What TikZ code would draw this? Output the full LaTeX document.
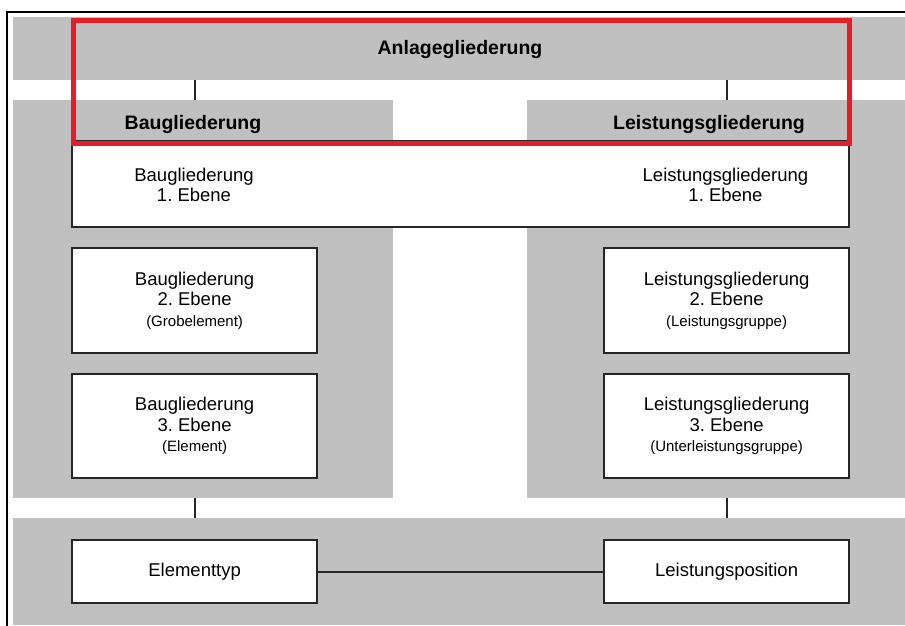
\documentclass[tikz,border=0pt]{standalone}
\usepackage{fontspec}
\setmainfont{Liberation Sans}
\frenchspacing
\definecolor{bandgray}{RGB}{192,192,192}
\definecolor{markred}{RGB}{226,30,40}
\tikzset{
  band/.style={rectangle, fill=bandgray, draw=none, inner sep=0pt, anchor=north west},
  levelbox/.style={rectangle, fill=white, draw=black!85, line width=2.2pt, inner sep=0pt,
    anchor=north west, align=center, font=\fontsize{18.5}{20.5}\selectfont},
  boxtext/.style={align=center, inner sep=0pt, font=\fontsize{18.5}{20.5}\selectfont},
  headline/.style={inner sep=0pt, anchor=base, font=\fontsize{19.5}{22}\selectfont\bfseries},
  conn/.style={draw=black!85, line width=2.2pt},
  frame/.style={draw=black, line width=2.2pt},
  highlight/.style={rectangle, draw=markred, line width=5pt, inner sep=0pt, anchor=north west}
}
\newcommand{\subnote}[1]{{\fontsize{15}{21}\selectfont #1}}
\begin{document}
\begin{tikzpicture}[x=1pt,y=-1pt]
  \useasboundingbox (0,0) rectangle (905,626);

  % outer frame (left and top edges)
  \draw[frame] (7,626) -- (7,12) -- (905,12);

  % grey bands and columns
  \node[band, minimum width=892pt, minimum height=63pt]  (anlage)  at (13,17)  {};
  \node[band, minimum width=380pt, minimum height=398pt] (bauCol)  at (13,100) {};
  \node[band, minimum width=378pt, minimum height=398pt] (leiCol)  at (527,100) {};
  \node[band, minimum width=892pt, minimum height=107pt] (bottom)  at (13,518) {};

  % headings
  \node[headline] (anlageT) at (460,55)  {Anlagegliederung};
  \node[headline] (bauT)    at (193,129) {Baugliederung};
  \node[headline] (leiT)    at (709,129) {Leistungsgliederung};

  % first level (shared box)
  \node[levelbox, minimum width=777pt, minimum height=86pt] (lvlOne) at (71,140) {};
  \node[boxtext] (bau1) at (194,185)   {Baugliederung\\1. Ebene};
  \node[boxtext] (lei1) at (725.5,185) {Leistungsgliederung\\1. Ebene};

  % second and third levels
  \node[levelbox, minimum width=245pt, minimum height=105pt] (bau2) at (71,247)
    {Baugliederung\\2. Ebene\\\subnote{(Grobelement)}};
  \node[levelbox, minimum width=245pt, minimum height=104pt] (bau3) at (71,373)
    {Baugliederung\\3. Ebene\\\subnote{(Element)}};
  \node[levelbox, minimum width=245pt, minimum height=105pt] (lei2) at (603,247)
    {Leistungsgliederung\\2. Ebene\\\subnote{(Leistungsgruppe)}};
  \node[levelbox, minimum width=245pt, minimum height=104pt] (lei3) at (603,373)
    {Leistungsgliederung\\3. Ebene\\\subnote{(Unterleistungsgruppe)}};

  % bottom row
  \node[levelbox, minimum width=245pt, minimum height=63pt] (elem)   at (71,539)  {Elementtyp};
  \node[levelbox, minimum width=245pt, minimum height=63pt] (leipos) at (603,539) {Leistungsposition};

  % connectors
  \draw[conn] (anlage.south -| bau2) -- (bauCol.north -| bau2);
  \draw[conn] (anlage.south -| lei2) -- (leiCol.north -| lei2);
  \draw[conn] (bauCol.south -| bau3) -- (bottom.north -| bau3);
  \draw[conn] (leiCol.south -| lei3) -- (bottom.north -| lei3);
  \draw[conn] (elem.east) -- (leipos.west);

  % red highlight frame
  \node[highlight, minimum width=776.5pt, minimum height=122pt] (mark) at (70.5,18.5) {};
\end{tikzpicture}
\end{document}
